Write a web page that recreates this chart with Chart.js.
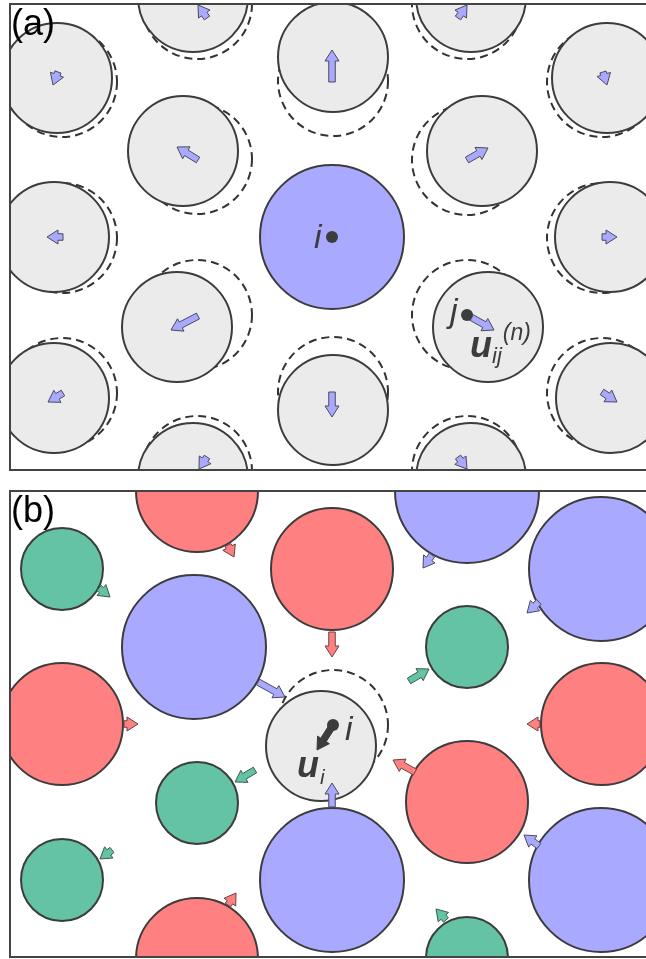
<!DOCTYPE html>
<html>
<head>
<meta charset="utf-8">
<script src="https://cdn.jsdelivr.net/npm/chart.js@4/dist/chart.umd.min.js"></script>
<style>
  html, body { margin: 0; padding: 0; background: #fff; overflow: hidden; }
  canvas { display: block; }
</style>
</head>
<body>
<canvas id="panelA" width="646" height="480"></canvas>
<canvas id="panelB" width="646" height="479"></canvas>
<script>
// ---------- Panel (a): neighbours of particle i, displaced from their lattice sites ----------
// positions in units of 100 px of the frame, origin at the frame's lower-left corner
const aSites = [
  [0.52, 3.88], [1.87, 4.66], [3.23, 3.89], [4.57, 4.66], [5.92, 3.88],
  [1.87, 3.11], [4.57, 3.10], [0.52, 2.32], [5.92, 2.32],
  [1.87, 1.55], [4.57, 1.55], [0.52, 0.77], [3.23, 0.78], [5.92, 0.77],
  [1.87, -0.01], [4.57, -0.01]
];
const aNeighbours = [
  [0.47, 3.92], [1.83, 4.73], [3.23, 4.13], [4.61, 4.73], [5.97, 3.92],
  [1.73, 3.19], [4.72, 3.19], [0.44, 2.33], [6.00, 2.33],
  [1.67, 1.43], [4.78, 1.43], [0.44, 0.72], [3.23, 0.60], [6.01, 0.72],
  [1.83, -0.08], [4.61, -0.08]
];
// displacement arrows: [x0, y0, x1, y1]
const aArrows = [
  [0.48, 3.98, 0.43, 3.85], [1.97, 4.52, 1.88, 4.65], [3.22, 3.88, 3.22, 4.20],
  [4.48, 4.52, 4.57, 4.65], [5.93, 3.98, 5.97, 3.85],
  [1.88, 3.10, 1.67, 3.23], [4.57, 3.10, 4.78, 3.22],
  [0.53, 2.33, 0.37, 2.33], [5.92, 2.33, 6.07, 2.33],
  [1.88, 1.54, 1.61, 1.40], [4.57, 1.55, 4.84, 1.40],
  [0.53, 0.77, 0.38, 0.68], [3.22, 0.78, 3.22, 0.53], [5.92, 0.78, 6.07, 0.68],
  [1.97, 0.13, 1.89, 0.01], [4.48, 0.13, 4.57, 0.01]
];
const aCentral = [3.22, 2.33];
const aTagged = [4.57, 1.55];
const aNeighbourRadius = 0.55;
const aCentralRadius = 0.72;

// ---------- Panel (b): mixture around the probe particle i ----------
const bGreen = [[0.52, 3.88], [4.57, 3.10], [1.87, 1.54], [0.52, 0.77], [4.57, -0.01]];
const bRed = [[1.87, 4.66], [3.22, 3.88], [0.52, 2.33], [5.92, 2.33], [1.87, -0.02], [4.57, 1.55]];
const bBlue = [[1.84, 3.10], [4.57, 4.66], [5.91, 3.88], [3.22, 0.77], [5.91, 0.77]];
const bGreenRadius = 0.41;
const bRedRadius = 0.61;
const bBlueRadius = 0.72;
const bProbe = [3.11, 2.11];
const bProbeSite = [3.23, 2.32];
const bProbeRadius = 0.55;
const bGreenArrows = [
  [0.89, 3.69, 1.00, 3.60], [3.99, 2.76, 4.19, 2.88], [2.45, 1.87, 2.25, 1.75],
  [1.02, 1.07, 0.90, 0.98], [4.36, 0.37, 4.26, 0.48]
];
const bRedArrows = [
  [2.18, 4.12, 2.24, 4.00], [3.22, 3.25, 3.22, 3.00], [1.14, 2.33, 1.28, 2.33],
  [5.30, 2.33, 5.17, 2.33], [2.18, 0.52, 2.26, 0.64], [4.05, 1.85, 3.83, 1.97]
];
const bBlueArrows = [
  [2.48, 2.75, 2.75, 2.60], [4.22, 4.02, 4.13, 3.89], [5.29, 3.55, 5.17, 3.44],
  [3.22, 1.50, 3.22, 1.74], [5.29, 1.11, 5.14, 1.22]
];
const bProbeArrow = [3.23, 2.32, 3.07, 2.07];

// ---------- styling ----------
const INK = '#3c3c3c';
const GREY = '#ebebeb';
const BLUE = '#a9aaff';
const RED = '#ff8080';
const GREEN = '#64c2a5';
const FONT = '"Liberation Sans", Arial, sans-serif';

function pxRadius(chart, r) {
  const s = chart.scales.x;
  return s.getPixelForValue(r) - s.getPixelForValue(0);
}

function discs(points, r, fill, order, extra) {
  return Object.assign({
    data: points.map(p => ({ x: p[0], y: p[1], r })),
    pointRadius: ctx => (ctx.raw ? pxRadius(ctx.chart, ctx.raw.r) : 0),
    pointHoverRadius: ctx => (ctx.raw ? pxRadius(ctx.chart, ctx.raw.r) : 0),
    pointBackgroundColor: fill,
    pointBorderColor: INK,
    pointBorderWidth: 2,
    pointStyle: 'circle',
    clip: 0,
    order
  }, extra || {});
}

function drawArrow(ctx, x0, y0, x1, y1, fill, stroke, shaftW, headW, headL) {
  const dx = x1 - x0, dy = y1 - y0;
  const L = Math.hypot(dx, dy);
  if (L < 0.5) return;
  const ux = dx / L, uy = dy / L, nx = -uy, ny = ux;
  const hl = Math.min(headL, L);
  const bx = x1 - ux * hl, by = y1 - uy * hl;
  ctx.beginPath();
  ctx.moveTo(x0 + nx * shaftW / 2, y0 + ny * shaftW / 2);
  ctx.lineTo(bx + nx * shaftW / 2, by + ny * shaftW / 2);
  ctx.lineTo(bx + nx * headW / 2, by + ny * headW / 2);
  ctx.lineTo(x1, y1);
  ctx.lineTo(bx - nx * headW / 2, by - ny * headW / 2);
  ctx.lineTo(bx - nx * shaftW / 2, by - ny * shaftW / 2);
  ctx.lineTo(x0 - nx * shaftW / 2, y0 - ny * shaftW / 2);
  ctx.closePath();
  ctx.fillStyle = fill;
  ctx.fill();
  ctx.lineWidth = 1;
  ctx.strokeStyle = stroke;
  ctx.stroke();
}

// dashed outlines for datasets that ask for them
const dashPlugin = {
  id: 'dashOutline',
  beforeDatasetDraw(chart, args) {
    const ds = chart.data.datasets[args.index];
    if (ds.outlineDash) chart.ctx.setLineDash(ds.outlineDash);
  },
  afterDatasetDraw(chart) {
    chart.ctx.setLineDash([]);
  }
};

// arrows, dots, italic labels, frame and panel tag
const overlayPlugin = {
  id: 'overlay',
  afterDatasetsDraw(chart, args, opts) {
    const { ctx, chartArea: a, scales: { x, y } } = chart;
    ctx.save();
    ctx.beginPath();
    ctx.rect(a.left, a.top, a.right - a.left, a.bottom - a.top);
    ctx.clip();
    (opts.arrows || []).forEach(g => {
      g.list.forEach(v => drawArrow(ctx,
        x.getPixelForValue(v[0]), y.getPixelForValue(v[1]),
        x.getPixelForValue(v[2]), y.getPixelForValue(v[3]),
        g.fill, g.stroke, g.shaft, g.head, g.headLen));
    });
    (opts.dots || []).forEach(d => {
      ctx.beginPath();
      ctx.arc(x.getPixelForValue(d[0]), y.getPixelForValue(d[1]), 6, 0, Math.PI * 2);
      ctx.fillStyle = INK;
      ctx.fill();
    });
    (opts.labels || []).forEach(lb => {
      let px = x.getPixelForValue(lb.at[0]);
      const py = y.getPixelForValue(lb.at[1]);
      ctx.textAlign = 'left';
      ctx.textBaseline = 'alphabetic';
      ctx.fillStyle = INK;
      lb.runs.forEach(r => {
        ctx.font = r.font;
        ctx.fillText(r.text, px + (r.dx || 0), py + (r.dy || 0));
        px += ctx.measureText(r.text).width + (r.dx || 0);
      });
    });
    ctx.restore();

    // frame (open on the right, where the page cuts it)
    ctx.save();
    ctx.strokeStyle = '#444';
    ctx.lineWidth = 2;
    ctx.beginPath();
    ctx.moveTo(a.right + 10, a.top);
    ctx.lineTo(a.left, a.top);
    ctx.lineTo(a.left, a.bottom);
    ctx.lineTo(a.right + 10, a.bottom);
    ctx.stroke();
    ctx.fillStyle = '#000';
    ctx.font = '36px ' + FONT;
    ctx.textAlign = 'left';
    ctx.textBaseline = 'alphabetic';
    ctx.fillText(opts.tag, a.left + 1, a.top + 31);
    ctx.restore();
  }
};

const baseScales = {
  x: { type: 'linear', min: 0, max: 6.36, display: false },
  y: { type: 'linear', min: 0, max: 4.66, display: false }
};

function makeChart(id, datasets, overlay, padTop, padBottom) {
  return new Chart(document.getElementById(id), {
    type: 'scatter',
    data: { datasets },
    options: {
      responsive: false,
      animation: false,
      events: [],
      layout: { padding: { left: 10, right: 0, top: padTop, bottom: padBottom } },
      scales: baseScales,
      plugins: { legend: { display: false }, tooltip: { enabled: false }, overlay }
    },
    plugins: [dashPlugin, overlayPlugin]
  });
}

const labelItalic = 'italic 34px ' + FONT;
const dashedSite = { pointBorderWidth: 2, pointBorderColor: '#333', outlineDash: [8, 5] };

makeChart('panelA', [
  discs(aSites, aNeighbourRadius, 'rgba(0,0,0,0)', 4, dashedSite),
  discs(aNeighbours, aNeighbourRadius, GREY, 3),
  discs([aCentral], aCentralRadius, BLUE, 2)
], {
  tag: '(a)',
  arrows: [{ list: aArrows, fill: BLUE, stroke: '#4a4a5a', shaft: 6.5, head: 14, headLen: 11 }],
  dots: [aCentral, aTagged],
  labels: [
    { at: [3.04, 2.22], runs: [{ text: 'i', font: labelItalic }] },
    { at: [4.40, 1.48], runs: [{ text: 'j', font: labelItalic }] },
    { at: [4.60, 1.13], runs: [
      { text: 'u', font: 'italic bold 36px ' + FONT },
      { text: 'ij', font: 'italic 22px ' + FONT, dy: 6 },
      { text: '(n)', font: 'italic 23px ' + FONT, dy: -17, dx: 1 }
    ] }
  ]
}, 4, 10);

makeChart('panelB', [
  discs([bProbeSite], bProbeRadius, 'rgba(0,0,0,0)', 5, dashedSite),
  discs(bGreen, bGreenRadius, GREEN, 4),
  discs(bRed, bRedRadius, RED, 3),
  discs(bBlue, bBlueRadius, BLUE, 2),
  discs([bProbe], bProbeRadius, GREY, 1)
], {
  tag: '(b)',
  arrows: [
    { list: bGreenArrows, fill: GREEN, stroke: '#3a5a50', shaft: 6.5, head: 14, headLen: 11 },
    { list: bRedArrows, fill: RED, stroke: '#6a4040', shaft: 6.5, head: 14, headLen: 11 },
    { list: bBlueArrows, fill: BLUE, stroke: '#4a4a5a', shaft: 6.5, head: 14, headLen: 11 },
    { list: [bProbeArrow], fill: INK, stroke: INK, shaft: 6.5, head: 14, headLen: 12 }
  ],
  dots: [bProbeSite],
  labels: [
    { at: [3.35, 2.17], runs: [{ text: 'i', font: labelItalic }] },
    { at: [2.87, 1.80], runs: [
      { text: 'u', font: 'italic bold 36px ' + FONT },
      { text: 'i', font: 'italic 21px ' + FONT, dy: 7, dx: 1 }
    ] }
  ]
}, 11, 2);
</script>
</body>
</html>
